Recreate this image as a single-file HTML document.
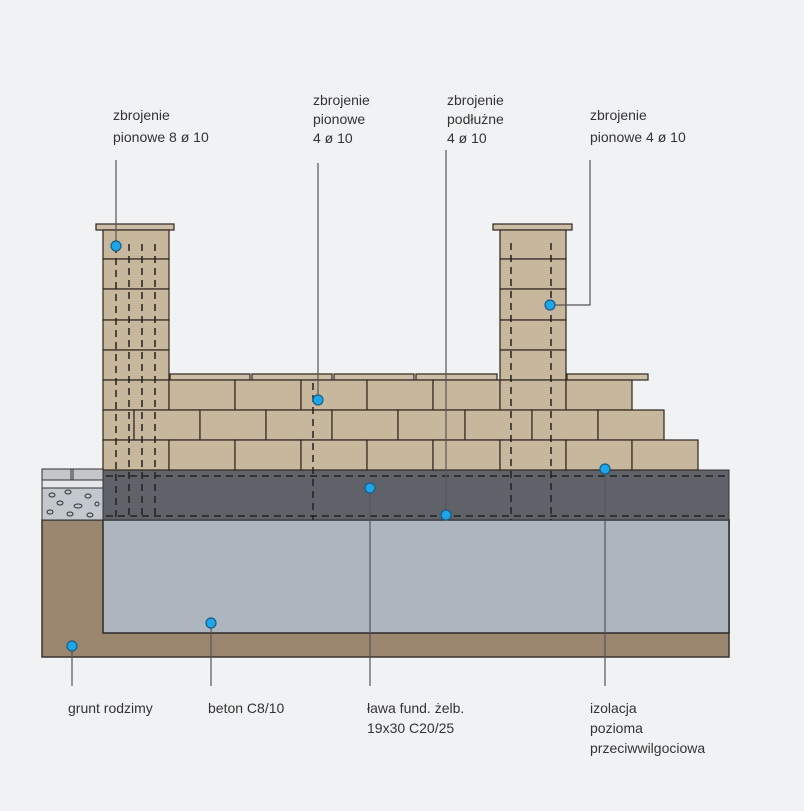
<!DOCTYPE html>
<html><head><meta charset="utf-8"><style>
html,body{margin:0;padding:0;background:#fff}
svg{display:block}
text{font-family:"Liberation Sans",sans-serif;font-size:14px;fill:#333}
</style></head><body>
<svg width="804" height="811" viewBox="0 0 804 811" xmlns="http://www.w3.org/2000/svg">
<rect x="0" y="0" width="804" height="811" fill="#f1f2f4"/>
<rect x="42" y="520" width="687" height="137" fill="#9b8770" stroke="#3a332c" stroke-width="1.5"/>
<rect x="103" y="520" width="626" height="113" fill="#adb5bf" stroke="#2b2b2b" stroke-width="1.5"/>
<rect x="42" y="469" width="61" height="51" fill="#c2c8ce" stroke="#333" stroke-width="1"/>
<rect x="42" y="469" width="29" height="11" fill="#c4c6c9" stroke="#333" stroke-width="1"/>
<rect x="73" y="469" width="30" height="11" fill="#c4c6c9" stroke="#333" stroke-width="1"/>
<rect x="42" y="480" width="61" height="8" fill="#e6e7e8" stroke="#333" stroke-width="1"/>
<g fill="none" stroke="#333" stroke-width="1">
<ellipse cx="52" cy="495" rx="3" ry="2"/><ellipse cx="68" cy="492" rx="3" ry="2"/><ellipse cx="88" cy="496" rx="3" ry="2"/>
<ellipse cx="60" cy="503" rx="3" ry="2"/><ellipse cx="78" cy="506" rx="4" ry="2"/><ellipse cx="97" cy="504" rx="2" ry="2"/>
<ellipse cx="50" cy="512" rx="3" ry="2"/><ellipse cx="70" cy="514" rx="3" ry="2"/><ellipse cx="90" cy="515" rx="3" ry="2"/>
</g>
<rect x="103" y="470" width="626" height="50" fill="#5f6269" stroke="#333" stroke-width="1"/>
<g stroke="#222" stroke-width="1.5" stroke-dasharray="7,5">
<line x1="106" y1="476" x2="726" y2="476"/>
<line x1="106" y1="516" x2="726" y2="516"/>
</g>
<g fill="#c7b79d" stroke="#2e261e" stroke-width="1.2">
<rect x="96" y="224" width="78" height="6" fill="#cdbfa7"/>
<rect x="493" y="224" width="79" height="6" fill="#cdbfa7"/>
<rect x="170" y="374" width="80" height="6" fill="#cdbfa7"/>
<rect x="252" y="374" width="80" height="6" fill="#cdbfa7"/>
<rect x="334" y="374" width="80" height="6" fill="#cdbfa7"/>
<rect x="416" y="374" width="81" height="6" fill="#cdbfa7"/>
<rect x="567" y="374" width="81" height="6" fill="#cdbfa7"/>
<rect x="103" y="230" width="66" height="29"/>
<rect x="103" y="259" width="66" height="30"/>
<rect x="103" y="289" width="66" height="31"/>
<rect x="103" y="320" width="66" height="30"/>
<rect x="103" y="350" width="66" height="30"/>
<rect x="500" y="230" width="66" height="29"/>
<rect x="500" y="259" width="66" height="30"/>
<rect x="500" y="289" width="66" height="31"/>
<rect x="500" y="320" width="66" height="30"/>
<rect x="500" y="350" width="66" height="30"/>
<rect x="103" y="380" width="66" height="30"/>
<rect x="169" y="380" width="66" height="30"/>
<rect x="235" y="380" width="66" height="30"/>
<rect x="301" y="380" width="66" height="30"/>
<rect x="367" y="380" width="66" height="30"/>
<rect x="433" y="380" width="67" height="30"/>
<rect x="500" y="380" width="66" height="30"/>
<rect x="566" y="380" width="66" height="30"/>
<rect x="103" y="410" width="31" height="30"/>
<rect x="134" y="410" width="66" height="30"/>
<rect x="200" y="410" width="66" height="30"/>
<rect x="266" y="410" width="66" height="30"/>
<rect x="332" y="410" width="66" height="30"/>
<rect x="398" y="410" width="67" height="30"/>
<rect x="465" y="410" width="67" height="30"/>
<rect x="532" y="410" width="66" height="30"/>
<rect x="598" y="410" width="66" height="30"/>
<rect x="103" y="440" width="66" height="30"/>
<rect x="169" y="440" width="66" height="30"/>
<rect x="235" y="440" width="66" height="30"/>
<rect x="301" y="440" width="66" height="30"/>
<rect x="367" y="440" width="66" height="30"/>
<rect x="433" y="440" width="67" height="30"/>
<rect x="500" y="440" width="66" height="30"/>
<rect x="566" y="440" width="66" height="30"/>
<rect x="632" y="440" width="66" height="30"/>
</g>
<g stroke="#222" stroke-width="1.5" stroke-dasharray="7,5">
<line x1="116" y1="246" x2="116" y2="520"/>
<line x1="129" y1="244" x2="129" y2="520"/>
<line x1="142" y1="244" x2="142" y2="520"/>
<line x1="155" y1="244" x2="155" y2="520"/>
<line x1="511" y1="243" x2="511" y2="520"/>
<line x1="551" y1="243" x2="551" y2="520"/>
<line x1="313" y1="383" x2="313" y2="520"/>
</g>
<g stroke="#555" stroke-width="1.2" fill="none">
<line x1="116" y1="160" x2="116" y2="246"/>
<line x1="318" y1="163" x2="318" y2="400"/>
<line x1="446" y1="150" x2="446" y2="515"/>
<polyline points="590,160 590,305 550,305"/>
<line x1="72" y1="646" x2="72" y2="686"/>
<line x1="211" y1="623" x2="211" y2="686"/>
<line x1="370" y1="488" x2="370" y2="686"/>
<line x1="605" y1="469" x2="605" y2="686"/>
</g>
<g fill="#1ea7e6" stroke="#1a5b86" stroke-width="1.2">
<circle cx="116" cy="246" r="5"/>
<circle cx="318" cy="400" r="5"/>
<circle cx="550" cy="305" r="5"/>
<circle cx="605" cy="469" r="5"/>
<circle cx="370" cy="488" r="5"/>
<circle cx="446" cy="515" r="5"/>
<circle cx="211" cy="623" r="5"/>
<circle cx="72" cy="646" r="5"/>
</g>
<text x="113" y="120">zbrojenie</text>
<text x="113" y="142">pionowe 8 ø 10</text>
<text x="313" y="105">zbrojenie</text>
<text x="313" y="124">pionowe</text>
<text x="313" y="143">4 ø 10</text>
<text x="447" y="105">zbrojenie</text>
<text x="447" y="124">podłużne</text>
<text x="447" y="143">4 ø 10</text>
<text x="590" y="120">zbrojenie</text>
<text x="590" y="142">pionowe 4 ø 10</text>
<text x="68" y="713">grunt rodzimy</text>
<text x="208" y="713">beton C8/10</text>
<text x="367" y="713">ława fund. żelb.</text>
<text x="367" y="733">19x30 C20/25</text>
<text x="590" y="713">izolacja</text>
<text x="590" y="733">pozioma</text>
<text x="590" y="753">przeciwwilgociowa</text>
</svg>
</body></html>
